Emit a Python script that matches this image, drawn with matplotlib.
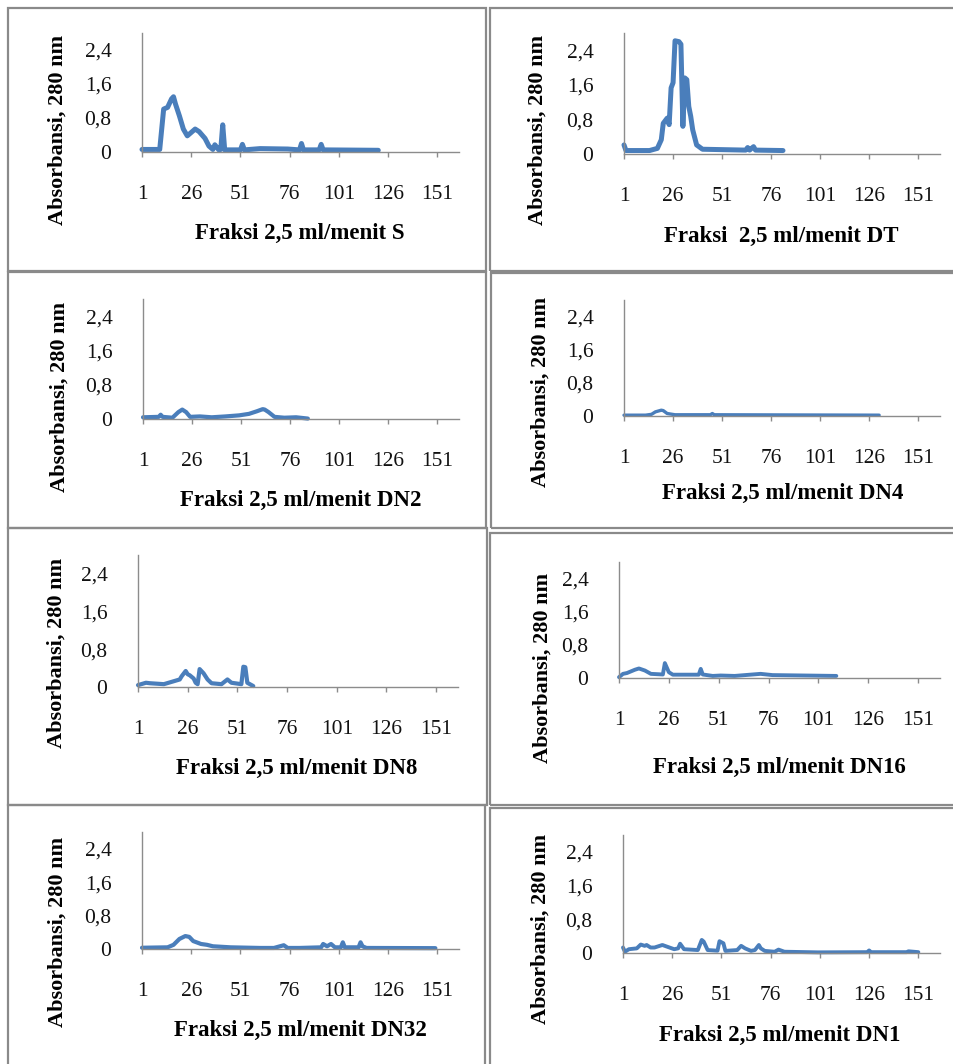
import matplotlib
matplotlib.use('Agg')
import matplotlib.pyplot as plt
from matplotlib.patches import Rectangle

plt.rcParams['font.family'] = ['Liberation Serif', 'DejaVu Serif']

# %%
# data: fraction number vs absorbance at 280 nm
frac_S = [1, 10, 12, 14, 16, 17, 18, 20, 22, 24, 26, 28, 30, 33, 35, 37, 38, 40, 41, 42,
          43, 51, 52, 53, 61, 75, 81, 82, 83, 91, 92, 93, 121]
abs_S = [0.06, 0.06, 1.01, 1.05, 1.25, 1.30, 1.13, 0.85, 0.54, 0.38, 0.46, 0.54, 0.48, 0.32, 0.14,
         0.06, 0.17, 0.05, 0.06, 0.64, 0.05, 0.05, 0.18, 0.05, 0.08, 0.07, 0.05, 0.20, 0.05, 0.05,
         0.18, 0.05, 0.04]

frac_DT = [1, 2, 14, 18, 20, 21, 23, 24, 25, 26, 27, 29, 30, 31, 32, 33, 34, 35, 36, 38,
           41, 63, 64, 65, 67, 68, 82]
abs_DT = [0.21, 0.08, 0.08, 0.13, 0.33, 0.71, 0.83, 0.68, 1.53, 1.65, 2.62, 2.60, 2.54, 0.64,
          1.76, 1.72, 1.10, 0.87, 0.56, 0.21, 0.11, 0.09, 0.15, 0.09, 0.17, 0.09, 0.08]

frac_DN2 = [1, 9, 10, 11, 16, 19, 21, 23, 25, 30, 36, 43, 50, 55, 59, 62, 63, 65, 68, 73, 79, 85]
abs_DN2 = [0.04, 0.05, 0.10, 0.05, 0.03, 0.16, 0.22, 0.16, 0.05, 0.06, 0.04, 0.06, 0.085, 0.12,
           0.18, 0.23, 0.22, 0.16, 0.05, 0.03, 0.04, 0.01]

frac_DN4 = [1, 12, 15, 17, 20, 21, 23, 27, 45, 46, 47, 131]
abs_DN4 = [0.02, 0.02, 0.04, 0.10, 0.14, 0.13, 0.06, 0.03, 0.03, 0.06, 0.03, 0.02]

frac_DN8 = [1, 5, 7, 14, 18, 22, 23, 25, 26, 27, 29, 30, 31, 32, 34, 36, 38, 43, 46, 48,
            53, 54, 55, 56, 59]
abs_DN8 = [0.04, 0.09, 0.08, 0.06, 0.11, 0.16, 0.23, 0.34, 0.27, 0.25, 0.18, 0.09, 0.06, 0.38,
           0.29, 0.16, 0.08, 0.06, 0.16, 0.09, 0.06, 0.43, 0.42, 0.09, 0.02]

frac_DN16 = [1, 3, 5, 9, 11, 14, 17, 23, 24, 26, 28, 41, 42, 43, 48, 52, 59, 72, 78, 110]
abs_DN16 = [0.02, 0.10, 0.12, 0.20, 0.23, 0.18, 0.10, 0.085, 0.36, 0.14, 0.08, 0.08, 0.22, 0.085,
            0.05, 0.06, 0.05, 0.10, 0.07, 0.05]

frac_DN32 = [1, 14, 17, 20, 23, 25, 27, 31, 34, 37, 46, 61, 68, 73, 75, 81, 92, 93, 95, 97,
             99, 102, 103, 104, 111, 112, 113, 115, 150]
abs_DN32 = [0.03, 0.04, 0.10, 0.24, 0.31, 0.29, 0.19, 0.12, 0.10, 0.065, 0.04, 0.025, 0.025, 0.09,
            0.025, 0.025, 0.04, 0.12, 0.065, 0.12, 0.04, 0.04, 0.16, 0.04, 0.04, 0.16, 0.065,
            0.025, 0.02]

frac_DN1 = [1, 2, 4, 8, 10, 12, 13, 15, 17, 21, 24, 27, 29, 30, 32, 39, 41, 42, 44, 49,
            50, 52, 53, 59, 61, 63, 66, 68, 70, 71, 73, 78, 80, 83, 100, 125, 126, 127, 145, 146, 151]
abs_DN1 = [0.13, 0.03, 0.09, 0.11, 0.20, 0.17, 0.19, 0.13, 0.13, 0.19, 0.14, 0.09, 0.11, 0.22,
           0.09, 0.07, 0.31, 0.27, 0.07, 0.055, 0.28, 0.23, 0.05, 0.07, 0.17, 0.11, 0.05, 0.07,
           0.19, 0.11, 0.05, 0.03, 0.08, 0.03, 0.015, 0.02, 0.06, 0.02, 0.02, 0.04, 0.02]

xlabels = ['Fraksi 2,5 ml/menit S', 'Fraksi  2,5 ml/menit DT',
           'Fraksi 2,5 ml/menit DN2', 'Fraksi 2,5 ml/menit DN4',
           'Fraksi 2,5 ml/menit DN8', 'Fraksi 2,5 ml/menit DN16',
           'Fraksi 2,5 ml/menit DN32', 'Fraksi 2,5 ml/menit DN1']
ylabel = 'Absorbansi, 280 nm'
xticks = [1, 26, 51, 76, 101, 126, 151]
yticks = [0, 0.8, 1.6, 2.4]
yticklabels = ['0', '0,8', '1,6', '2,4']

series = [(frac_S, abs_S), (frac_DT, abs_DT), (frac_DN2, abs_DN2), (frac_DN4, abs_DN4),
          (frac_DN8, abs_DN8), (frac_DN16, abs_DN16), (frac_DN32, abs_DN32), (frac_DN1, abs_DN1)]

# %%
# layout in pixels (left, top, right, bottom)
W, H = 954, 1064
axes_px = [(142, 33, 459, 152), (624, 33, 940, 154),
           (143, 299, 459, 419), (624, 300, 940, 416),
           (138, 555, 458, 687), (619, 562, 940, 678),
           (142, 832, 459, 949), (623, 835, 940, 953)]
box_px = [(8, 8, 486, 271), (490, 8, 958, 271),
          (8, 272, 486, 528), (491, 273, 958, 528),
          (8, 528, 487, 805), (490, 533, 958, 805),
          (8, 805, 485, 1068), (490, 808, 958, 1068)]
ylab_px = [(58, 130), (538, 130), (60, 397), (541, 392),
           (57, 653), (543, 668), (58, 932), (541, 929)]
xlab_px = [(300, 233), (781, 236), (301, 500), (783, 493),
           (297, 768), (779, 767), (300, 1030), (780, 1035)]
lws = [3.6, 3.6, 3.0, 2.4, 3.0, 2.8, 3.0, 2.8]

fig = plt.figure(figsize=(W / 100, H / 100), dpi=100)

for (l, t, r, b) in box_px:
    fig.patches.append(Rectangle((l / W, 1 - b / H), (r - l) / W, (b - t) / H,
                                 transform=fig.transFigure, fill=False,
                                 edgecolor='#8a8a8a', linewidth=1.6))

for i, (l, t, r, b) in enumerate(axes_px):
    ax = fig.add_axes([l / W, 1 - b / H, (r - l) / W, (b - t) / H])
    x, y = series[i]
    ax.plot(x, y, color='#4a7ebb', lw=lws[i], solid_joinstyle='round', solid_capstyle='round',
            clip_on=False)
    ax.set_xlim(1, 162)
    ax.set_ylim(0, 2.8)
    ax.set_xticks(xticks)
    ax.set_yticks(yticks)
    ax.set_yticklabels(yticklabels)
    for s in ['top', 'right']:
        ax.spines[s].set_visible(False)
    for s in ['left', 'bottom']:
        ax.spines[s].set_color('#8c8c8c')
        ax.spines[s].set_linewidth(1.0)
    ax.tick_params(axis='x', direction='out', length=3.6, width=1.0, color='#8c8c8c',
                   pad=20, labelsize=15.5, labelcolor='#111111')
    ax.tick_params(axis='y', length=0, pad=22, labelsize=15.5, labelcolor='#111111')
    ax.patch.set_alpha(0)

    fig.text(ylab_px[i][0] / W, 1 - ylab_px[i][1] / H, ylabel, rotation=90,
             ha='center', va='center', fontsize=16, fontweight='bold')
    fig.text(xlab_px[i][0] / W, 1 - xlab_px[i][1] / H, xlabels[i],
             ha='center', va='center', fontsize=16.5, fontweight='bold')

fig.savefig('out.png', dpi=100)
